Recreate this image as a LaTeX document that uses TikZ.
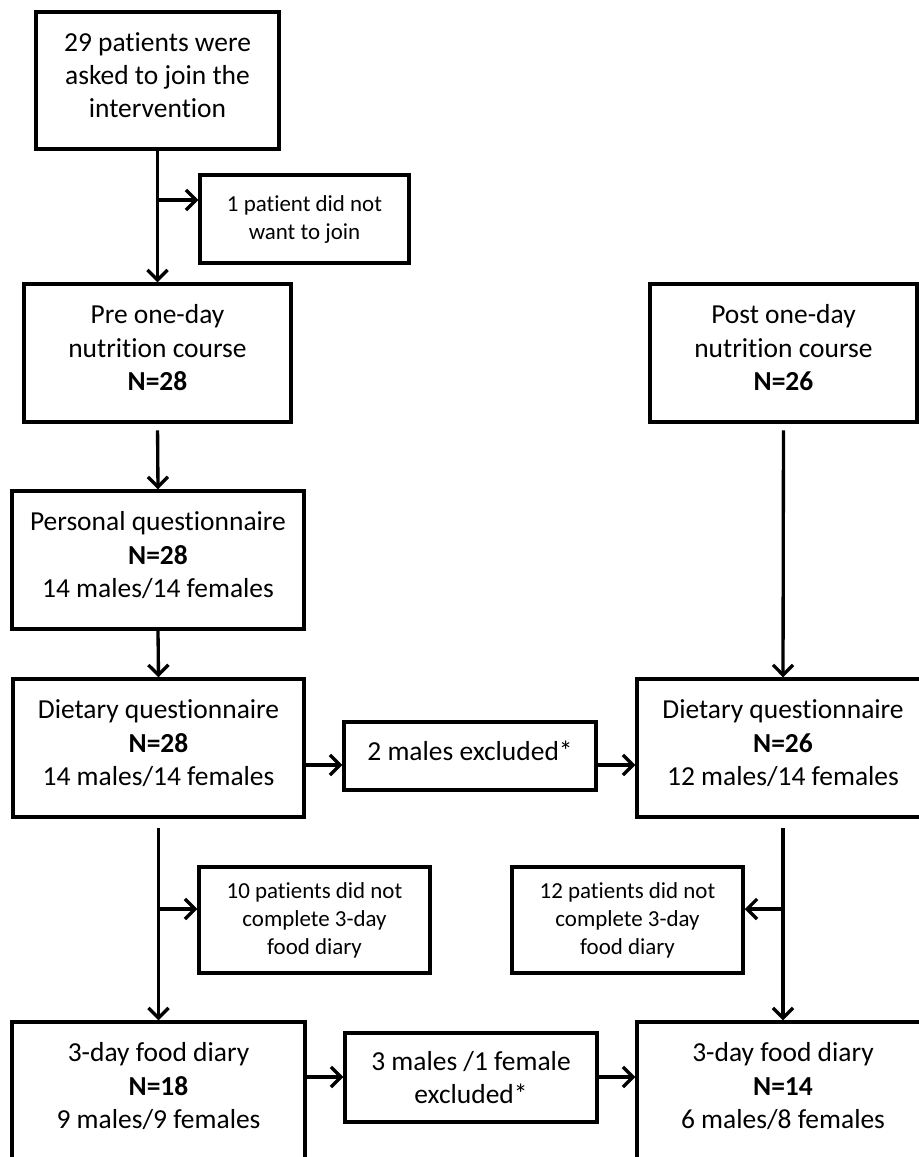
\documentclass[tikz,border=0pt]{standalone}
\usepackage{fontspec}
\setmainfont{Carlito}[Ligatures=NoCommon]
\usetikzlibrary{arrows.meta}
\newdimen\px \px=0.75pt
\tikzset{
  box/.style={draw, line width=2.6pt, inner sep=0pt, align=center,
    font=\fontsize{20.6}{25}\selectfont, minimum height=138*\px,
    text depth=8pt},
  note/.style={draw, line width=2.6pt, inner sep=0pt, align=center,
    font=\fontsize{17.2}{21}\selectfont},
  arr/.style={line width=2.5pt, -{Straight Barb[length=7.5pt 0 0, width=15pt 0 0]}},
}
\begin{document}
\begin{tikzpicture}[x=0.75pt, y=-0.75pt]
\useasboundingbox (0,0) rectangle (919,1157);

% left column
\node[box, minimum width=243*\px, minimum height=137*\px] (top) at (157.5,80.5)
  {29 patients were\\asked to join the\\intervention};
\node[note, minimum width=209*\px, minimum height=88*\px] (not1) at (304.5,219)
  {1 patient did not\\want to join};
\node[box, minimum width=267*\px] (pre) at (157.5,353)
  {Pre one-day\\nutrition course\\\textbf{N=28}};
\node[box, minimum width=292*\px] (pers) at (158,560)
  {Personal questionnaire\\\textbf{N=28}\\14 males/14 females};
\node[box, minimum width=291*\px] (dietL) at (158.5,748)
  {Dietary questionnaire\\\textbf{N=28}\\14 males/14 females};
\node[note, minimum width=231*\px, minimum height=106*\px] (nc10) at (314.5,920)
  {10 patients did not\\complete 3-day\\food diary};
\node[box, minimum width=293*\px] (diaL) at (158.5,1091)
  {3-day food diary\\\textbf{N=18}\\9 males/9 females};

% middle column
\node[box, minimum width=252*\px, minimum height=68*\px] (ex1) at (470,756)
  {2 males excluded*};
\node[box, minimum width=252*\px, minimum height=89*\px, text depth=0pt] (ex2) at (471,1077.5)
  {3 males /1 female\\excluded*};

% right column
\node[box, minimum width=267*\px] (post) at (783.5,353)
  {Post one-day\\nutrition course\\\textbf{N=26}};
\node[box, minimum width=292*\px] (dietR) at (783,748)
  {Dietary questionnaire\\\textbf{N=26}\\12 males/14 females};
\node[note, minimum width=231*\px, minimum height=106*\px] (nc12) at (627.5,920)
  {12 patients did not\\complete 3-day\\food diary};
\node[box, minimum width=292*\px] (diaR) at (783,1091)
  {3-day food diary\\\textbf{N=14}\\6 males/8 females};

% helper levels for branches and side arrows
\coordinate (h1) at (0,200);
\coordinate (r1) at (0,765);
\coordinate (h2) at (0,909);
\coordinate (r2) at (0,1077);

% vertical flow
\draw[arr] (top.south) -- (pre.north);
\draw[arr] (h1 -| top.south) -- (h1 -| not1.west);
\draw[arr, shorten <=5pt] (pre.south) -- (pers.north);
\draw[arr] (pers.south) -- (dietL.north);
\draw[arr, shorten <=5pt] (post.south) -- (dietR.north);
\draw[arr, shorten <=7pt] (dietL.south) -- (diaL.north);
\draw[arr, shorten <=7pt] (dietR.south) -- (diaR.north);
\draw[arr] (h2 -| dietL.south) -- (h2 -| nc10.west);
\draw[arr] (h2 -| dietR.south) -- (h2 -| nc12.east);

% exclusions between columns
\draw[arr] (r1 -| dietL.east) -- (r1 -| ex1.west);
\draw[arr] (r1 -| ex1.east) -- (r1 -| dietR.west);
\draw[arr] (r2 -| diaL.east) -- (r2 -| ex2.west);
\draw[arr] (r2 -| ex2.east) -- (r2 -| diaR.west);
\end{tikzpicture}
\end{document}
